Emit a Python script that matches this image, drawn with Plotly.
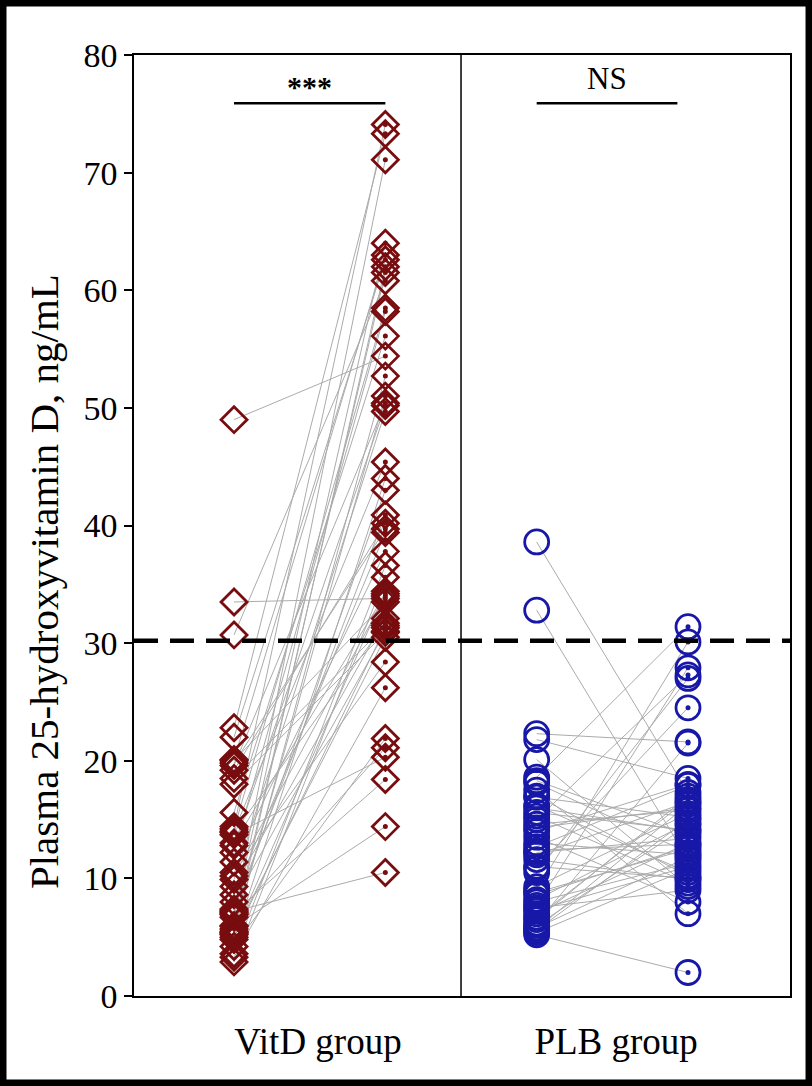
import plotly.graph_objects as go

# ---- data ----
groups = ["VitD group", "PLB group"]
vitd_pre = [49.0, 33.5, 30.7, 22.8, 22.0, 20.1, 19.6, 19.2, 18.0, 15.6,
            14.4, 14.0, 13.7, 13.0, 12.2, 11.4, 10.5, 9.9, 9.3, 8.6,
            7.3, 7.0, 6.7, 5.9, 5.4, 5.0, 4.2, 3.3, 2.9, 7.2,
            7.1, 6.9, 7.4, 5.5, 5.7, 5.2, 14.2, 13.9, 19.8, 20.0,
            6.0, 5.3, 4.8, 3.6, 12.8, 10.2, 8.0, 18.5]
vitd_post = [54.4, 33.8, 60.8, 73.3, 62.6, 63.0, 50.4, 40.2, 30.9, 56.1,
             74.1, 45.4, 20.3, 34.2, 58.2, 37.8, 28.4, 49.7, 32.1, 39.4,
             71.1, 64.0, 21.1, 14.4, 52.7, 31.3, 21.9, 26.2, 35.6, 10.5,
             18.4, 43.0, 40.9, 62.0, 51.0, 34.4, 58.5, 31.7, 39.7, 33.5,
             61.5, 30.5, 44.0, 36.6, 50.2, 34.0, 31.0, 31.5]
plb_pre = [38.6, 32.8, 22.3, 21.8, 20.1, 18.6, 18.1, 17.5, 16.9, 16.2,
           15.6, 15.0, 14.3, 13.5, 12.7, 12.2, 11.6, 10.9, 9.0, 8.6,
           8.2, 7.7, 7.3, 6.7, 6.2, 5.6, 5.2, 18.3, 17.0, 16.0,
           15.3, 14.0, 13.0, 12.0, 11.0, 10.5, 9.3, 8.8, 8.0, 7.5,
           7.0, 6.5, 6.0, 5.8, 5.4, 12.4, 14.6, 5.7]
plb_post = [17.3, 11.6, 21.6, 18.5, 9.3, 31.4, 12.2, 7.0, 15.2, 10.5,
            14.1, 27.3, 16.0, 8.0, 17.9, 13.4, 9.9, 24.5, 30.1, 12.7,
            14.7, 27.9, 11.0, 16.7, 21.5, 15.0, 2.0, 13.7, 10.2, 14.0,
            9.6, 18.0, 12.0, 16.5, 10.0, 27.0, 15.5, 12.5, 11.3, 9.0,
            13.0, 17.0, 14.5, 11.8, 10.8, 12.9, 15.8, 16.3]
threshold = 30.2
sig_labels = ["***", "NS"]
y_ticks = [0, 10, 20, 30, 40, 50, 60, 70, 80]

# x positions (category slots: pre/post per group)
X_VPRE, X_VPOST, X_PPRE, X_PPOST = 0.0, 1.0, 2.0, 3.0

FONT = "Liberation Serif, Times New Roman, serif"
RED = "#780d10"
BLUE = "#1818a8"
GRAY = "#ababab"


def pair_lines(x0, x1, pre, post):
    xs, ys = [], []
    for a, b in zip(pre, post):
        xs += [x0, x1, None]
        ys += [a, b, None]
    return xs, ys


fig = go.Figure()

for x0, x1, pre, post in [(X_VPRE, X_VPOST, vitd_pre, vitd_post),
                          (X_PPRE, X_PPOST, plb_pre, plb_post)]:
    xs, ys = pair_lines(x0, x1, pre, post)
    fig.add_trace(go.Scatter(x=xs, y=ys, mode="lines",
                             line=dict(color=GRAY, width=1),
                             hoverinfo="skip", showlegend=False))

fig.add_trace(go.Scatter(x=[X_VPRE] * len(vitd_pre), y=vitd_pre, mode="markers",
                         marker=dict(symbol="diamond-open", size=20, color=RED,
                                     line=dict(width=2.8, color=RED)),
                         showlegend=False, name="VitD pre"))
fig.add_trace(go.Scatter(x=[X_VPOST] * len(vitd_post), y=vitd_post, mode="markers",
                         marker=dict(symbol="diamond-open", size=20, color=RED,
                                     line=dict(width=2.8, color=RED)),
                         showlegend=False, name="VitD post"))
fig.add_trace(go.Scatter(x=[X_VPOST] * len(vitd_post), y=vitd_post, mode="markers",
                         marker=dict(symbol="circle", size=5, color=RED),
                         showlegend=False, hoverinfo="skip"))
fig.add_trace(go.Scatter(x=[X_PPRE] * len(plb_pre), y=plb_pre, mode="markers",
                         marker=dict(symbol="circle-open", size=24, color=BLUE,
                                     line=dict(width=2.8, color=BLUE)),
                         showlegend=False, name="PLB pre"))
fig.add_trace(go.Scatter(x=[X_PPOST] * len(plb_post), y=plb_post, mode="markers",
                         marker=dict(symbol="circle-open", size=24, color=BLUE,
                                     line=dict(width=2.8, color=BLUE)),
                         showlegend=False, name="PLB post"))
fig.add_trace(go.Scatter(x=[X_PPOST] * len(plb_post), y=plb_post, mode="markers",
                         marker=dict(symbol="circle", size=5, color=BLUE),
                         showlegend=False, hoverinfo="skip"))

shapes = [
    # threshold dashed line
    dict(type="line", xref="paper", yref="y", x0=0, x1=1, y0=threshold, y1=threshold,
         line=dict(color="black", width=4.5, dash="24px,12px"), layer="above"),
    # divider between groups
    dict(type="line", xref="x", yref="y", x0=1.5, x1=1.5, y0=0, y1=80,
         line=dict(color="black", width=1.5)),
    # significance brackets
    dict(type="line", xref="x", yref="y", x0=X_VPRE, x1=X_VPOST, y0=75.9, y1=75.9,
         line=dict(color="black", width=2.5)),
    dict(type="line", xref="x", yref="y", x0=X_PPRE, x1=X_PPOST - 0.07, y0=75.9, y1=75.9,
         line=dict(color="black", width=2.5)),
    # outer frame of the image
    dict(type="rect", xref="paper", yref="paper", x0=-0.1997, x1=1.029,
         y0=-0.0925, y1=1.0553, line=dict(color="black", width=7)),
]

annotations = [
    dict(x=(X_VPRE + X_VPOST) / 2, y=77.3, xref="x", yref="y", text="<b>" + sig_labels[0] + "</b>",
         showarrow=False, font=dict(family=FONT, size=30, color="black")),
    dict(x=(X_PPRE + X_PPOST - 0.07) / 2, y=78.0, xref="x", yref="y", text=sig_labels[1],
         showarrow=False, font=dict(family=FONT, size=31, color="black")),
    dict(x=-0.137, y=0.44, xref="paper", yref="paper", xanchor="center", yanchor="middle",
         text="Plasma 25-hydroxyvitamin D, ng/mL", textangle=-90, showarrow=False,
         font=dict(family=FONT, size=41, color="black")),
]

fig.update_layout(
    width=812, height=1086,
    margin=dict(l=134, r=22, t=55, b=90),
    paper_bgcolor="white", plot_bgcolor="white",
    shapes=shapes, annotations=annotations,
    font=dict(family=FONT, color="black"),
    xaxis=dict(range=[-0.661, 3.674], tickvals=[0.555, 2.525], ticktext=groups,
               ticks="", showgrid=False, zeroline=False, showline=True,
               linecolor="black", linewidth=1.5, mirror=True,
               tickfont=dict(family=FONT, size=37), ticklabelstandoff=12),
    yaxis=dict(range=[0, 80], tickvals=y_ticks, ticks="outside", ticklen=8,
               tickwidth=1.5, tickcolor="black", showgrid=False, zeroline=False,
               showline=True, linecolor="black", linewidth=1.5, mirror=True,
               tickfont=dict(family=FONT, size=34)),
)

fig.write_html("out.html")
